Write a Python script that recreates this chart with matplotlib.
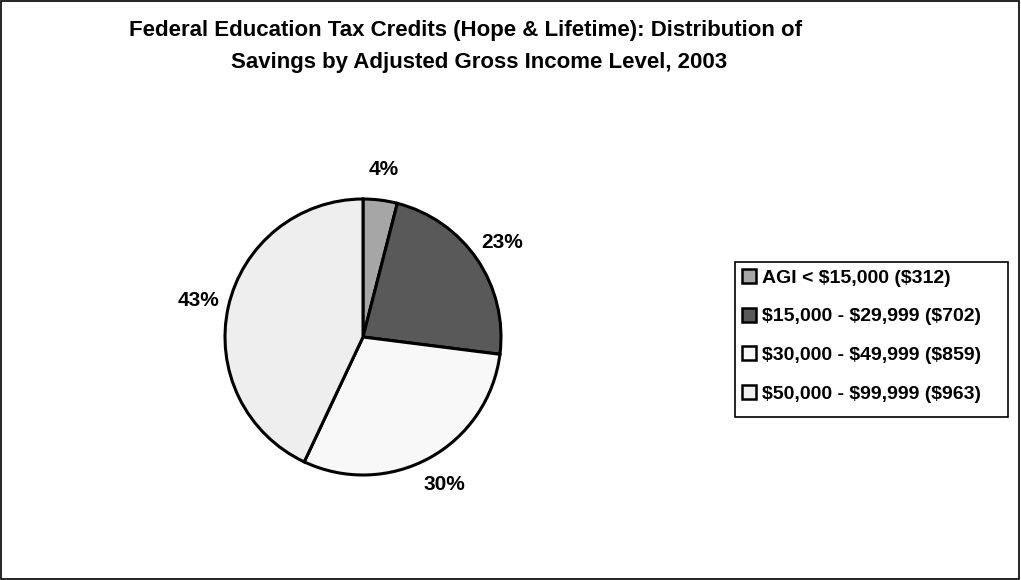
import matplotlib.pyplot as plt
from matplotlib.patches import Rectangle, Patch

# data
labels = ["AGI < $15,000 ($312)", "$15,000 - $29,999 ($702)",
          "$30,000 - $49,999 ($859)", "$50,000 - $99,999 ($963)"]
shares = [4, 23, 30, 43]
colors = ["#a6a6a6", "#595959", "#f8f8f8", "#eeeeee"]

plt.rcParams['font.family'] = ['Liberation Sans', 'DejaVu Sans']
plt.rcParams['text.parse_math'] = False

W, H = 1021, 580
fig = plt.figure(figsize=(W / 100, H / 100), dpi=100)
fig.patch.set_facecolor("white")

# frame around the whole picture
fig.add_artist(Rectangle((0.001, 0.002), 0.997, 0.996, transform=fig.transFigure,
                         fill=False, edgecolor="black", linewidth=1.2))

fig.text(0.456, 0.947, "Federal Education Tax Credits (Hope & Lifetime): Distribution of",
         ha="center", va="center", fontsize=16, fontweight="bold")
fig.text(0.469, 0.892, "Savings by Adjusted Gross Income Level, 2003",
         ha="center", va="center", fontsize=16, fontweight="bold")

ax = fig.add_axes([225 / W, (H - 475) / H, 276 / W, 276 / H])
wedges, texts, autotexts = ax.pie(
    shares, colors=colors, startangle=90, counterclock=False,
    autopct=lambda p: f"{p:.0f}%", pctdistance=1.22,
    wedgeprops=dict(edgecolor="black", linewidth=2.2),
    textprops=dict(fontsize=15, fontweight="bold"))
ax.set_xlim(-1, 1)
ax.set_ylim(-1, 1)

# legend box drawn separately so its size matches
fig.add_artist(Rectangle((735 / W, 1 - 417 / H), 273 / W, 155 / H,
                         transform=fig.transFigure, fill=False,
                         edgecolor="black", linewidth=1.2))
handles = [Patch(facecolor=c, edgecolor="black", linewidth=1.8) for c in colors]
leg = fig.legend(handles, labels, loc="upper left",
                 bbox_to_anchor=(735 / W, 1 - 262 / H),
                 frameon=False, prop=dict(size=14, weight="bold"),
                 handlelength=0.75, handleheight=0.75, handletextpad=0.3,
                 labelspacing=1.07, borderpad=0.35, borderaxespad=0)

plt.savefig("out.png", dpi=100)
